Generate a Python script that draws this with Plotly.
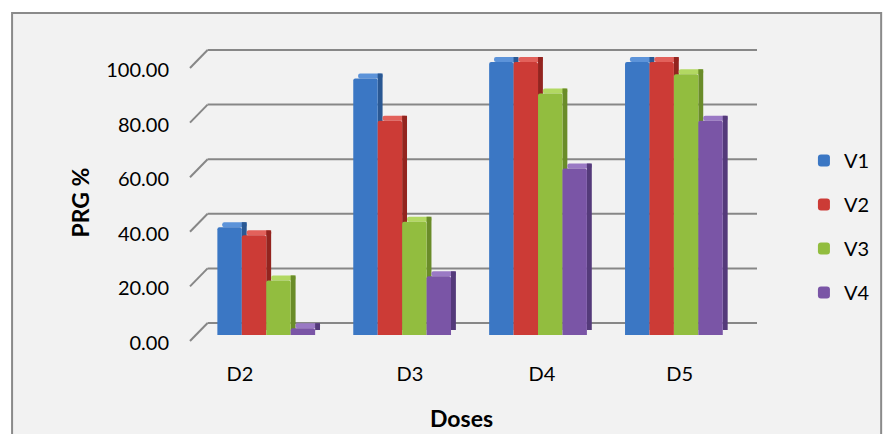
import plotly.graph_objects as go

# ---- data -------------------------------------------------------------
DOSES = ["D2", "D3", "D4", "D5"]
SERIES = ["V1", "V2", "V3", "V4"]
V1 = [39.5, 94.0, 100.0, 100.0]
V2 = [36.5, 78.5, 100.0, 100.0]
V3 = [20.0, 41.5, 88.5, 95.5]
V4 = [2.5, 21.5, 61.0, 78.5]
Y_TICKS = [0, 20, 40, 60, 80, 100]

# ---- styling ----------------------------------------------------------
FRONT = ["#3B77C4", "#CC3B36", "#92BD3F", "#7A55A6"]
SIDE = ["#2A5893", "#93241F", "#6A8C29", "#543A7A"]
TOP = ["#5C93D9", "#E2615B", "#B2D862", "#9A79C4"]
GRID = "#878787"
FONT = "Lato, 'Open Sans', sans-serif"

W, H = 887, 434
PLOT_L, PLOT_R, PLOT_T, PLOT_B = 190, 770, 40, 345
BASE_PY = 335          # pixel row of value 0 on the bar fronts
Y_PPU = 2.73           # pixels per value unit
X_PPU = 139            # pixels per category step
FIRST_CENTER_PX = 268  # centre of the first cluster
BAR_PX, DEPTH_PX = 25, 5
BACK_PX = 12           # back-wall lift of the grid
FRONT_PX = -6          # front edge of the wall ticks
LABEL_NUDGE_PX = [-27, 8, 4, 6]


def paper_x(px):
    return (px - PLOT_L) / (PLOT_R - PLOT_L)


def paper_y(py):
    return (PLOT_B - py) / (PLOT_B - PLOT_T)


bar_w = BAR_PX / X_PPU
depth_w = DEPTH_PX / X_PPU
depth_h = DEPTH_PX / Y_PPU
x = list(range(len(DOSES)))

fig = go.Figure()
for k, (name, vals) in enumerate(zip(SERIES, [V1, V2, V3, V4])):
    off = -2 * bar_w + k * bar_w
    # top face of each column
    fig.add_trace(go.Bar(
        x=x, y=[depth_h] * len(vals), base=vals, width=bar_w, offset=off + depth_w,
        marker=dict(color=TOP[k], line=dict(width=0), cornerradius=2),
        showlegend=False, hoverinfo="skip"))
    # right-hand side face
    fig.add_trace(go.Bar(
        x=x, y=vals, base=depth_h, width=depth_w, offset=off + bar_w,
        marker=dict(color=SIDE[k], line=dict(width=0)),
        showlegend=False, hoverinfo="skip"))
    # front face
    fig.add_trace(go.Bar(
        x=x, y=vals, width=bar_w, offset=off, name=name, legendgroup=name,
        marker=dict(color=FRONT[k], line=dict(width=0), cornerradius=2)))

shapes = [
    # chart area frame
    dict(type="rect", xref="paper", yref="paper", layer="below",
         x0=paper_x(8), x1=paper_x(W + 10), y0=paper_y(H + 10), y1=paper_y(13),
         fillcolor="#F2F2F2", line=dict(color="#8A8A8A", width=2)),
]
for v in Y_TICKS:
    # back-wall grid line
    shapes.append(dict(type="line", xref="paper", yref="y", layer="below",
                       ysizemode="pixel", yanchor=v, y0=BACK_PX, y1=BACK_PX,
                       x0=paper_x(208), x1=paper_x(PLOT_R),
                       line=dict(color=GRID, width=2)))
    # wall edge tick running to the front
    shapes.append(dict(type="line", xref="paper", yref="y", layer="below",
                       ysizemode="pixel", yanchor=v, y0=FRONT_PX, y1=BACK_PX,
                       x0=paper_x(PLOT_L), x1=paper_x(208),
                       line=dict(color=GRID, width=2)))

annotations = [
    dict(text="<b>PRG %</b>", xref="paper", yref="paper", x=paper_x(77), y=paper_y(203),
         textangle=-90, showarrow=False, font=dict(size=23, color="black", family=FONT),
         xanchor="center", yanchor="middle"),
    dict(text="<b>Doses</b>", xref="paper", yref="paper", x=paper_x(468), y=paper_y(418),
         showarrow=False, font=dict(size=23, color="black", family=FONT),
         xanchor="center", yanchor="middle"),
]

fig.update_layout(
    width=W, height=H,
    margin=dict(l=PLOT_L, r=W - PLOT_R, t=PLOT_T, b=H - PLOT_B, pad=0),
    paper_bgcolor="white", plot_bgcolor="rgba(0,0,0,0)",
    barmode="overlay",
    font=dict(family=FONT, size=20, color="black"),
    shapes=shapes, annotations=annotations,
    legend=dict(x=paper_x(818), y=paper_y(141), xanchor="left", yanchor="top",
                bgcolor="rgba(0,0,0,0)", tracegroupgap=15,
                font=dict(size=20, family=FONT, color="black")),
    xaxis=dict(range=[(PLOT_L - FIRST_CENTER_PX) / X_PPU, (PLOT_R - FIRST_CENTER_PX) / X_PPU],
               tickvals=[i + n / X_PPU for i, n in zip(x, LABEL_NUDGE_PX)],
               ticktext=DOSES, showgrid=False, zeroline=False, showline=False,
               ticks="", ticklabelstandoff=15, fixedrange=True),
    yaxis=dict(range=[(BASE_PY - PLOT_B) / Y_PPU, (BASE_PY - PLOT_T) / Y_PPU],
               tickvals=Y_TICKS, ticktext=[f"{v:.2f}" for v in Y_TICKS],
               showgrid=False, zeroline=False, showline=False,
               ticks="", ticklabelstandoff=20, ticklabelshift=8, fixedrange=True),
)

fig.write_html("out.html")
